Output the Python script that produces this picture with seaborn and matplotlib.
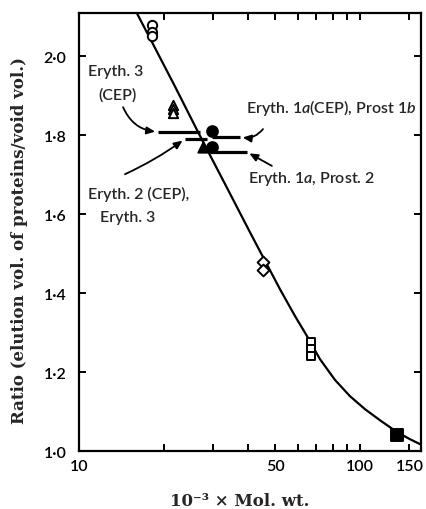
import matplotlib
matplotlib.use("Agg")
import matplotlib.pyplot as plt
import matplotlib.ticker as mticker
import numpy as np
import pandas as pd
import seaborn as sns

# Calibration curve: elution ratio against molecular weight (x 10^-3)
curve_mw = [15.9, 18.2, 22.0, 27.0, 33.1, 40.6, 45.2, 51.9, 58.7, 64.8, 72.0,
            81.5, 92.1, 104.2, 117.8, 135.4, 150.6, 166.3]
curve_ratio = [2.115, 2.035, 1.922, 1.797, 1.676, 1.554, 1.491, 1.410, 1.342,
               1.291, 1.233, 1.180, 1.139, 1.106, 1.078, 1.048, 1.030, 1.015]

# Marker proteins
open_circle_mw = [18.2, 18.2, 18.2]
open_circle_ratio = [2.078, 2.060, 2.052]
open_triangle_mw = [21.6, 21.6, 21.6]
open_triangle_ratio = [1.876, 1.866, 1.856]
filled_circle_mw = [29.7, 29.7]
filled_circle_ratio = [1.810, 1.770]
filled_triangle_mw = [27.6]
filled_triangle_ratio = [1.770]
open_diamond_mw = [45.2, 45.2]
open_diamond_ratio = [1.478, 1.458]
open_square_mw = [66.9, 66.9, 66.9]
open_square_ratio = [1.276, 1.258, 1.241]
filled_square_mw = [135.4]
filled_square_ratio = [1.040]

# Enzyme elution ratios drawn as horizontal bars
bar_ratio = [1.808, 1.790, 1.795, 1.757]
bar_mw_lo = [19.1, 23.8, 29.7, 29.3]
bar_mw_hi = [26.96, 28.6, 37.4, 39.6]

y_ticks = [1.0, 1.2, 1.4, 1.6, 1.8, 2.0]
y_tick_labels = ["1·0", "1·2", "1·4", "1·6", "1·8", "2·0"]
x_ticks = [10, 50, 100, 150]
x_tick_labels = ["10", "50", "100", "150"]
x_minor_ticks = [20, 30, 40, 60, 70, 80, 90]

sns.set_style("ticks")
plt.rcParams["font.family"] = ["Lato", "DejaVu Sans"]
plt.rcParams["font.weight"] = "semibold"
plt.rcParams["mathtext.fontset"] = "custom"
plt.rcParams["mathtext.rm"] = "Lato:semibold"
plt.rcParams["mathtext.it"] = "Lato:italic:semibold"

fig = plt.figure(figsize=(4.26, 5.10), dpi=100)
ax = fig.add_axes([0.1854, 0.1137, 0.8028, 0.8588])

curve = pd.DataFrame({"mw": curve_mw, "ratio": curve_ratio})
sns.lineplot(data=curve, x="mw", y="ratio", sort=False, color="black",
             linewidth=1.6, ax=ax, zorder=2)

ax.hlines(bar_ratio, bar_mw_lo, bar_mw_hi, colors="black", linewidth=2.3, zorder=2)

def points(xs, ys, marker, size, filled):
    df = pd.DataFrame({"mw": xs, "ratio": ys})
    sns.scatterplot(data=df, x="mw", y="ratio", marker=marker, s=size,
                    facecolor="black" if filled else "white",
                    edgecolor="black", linewidth=1.4, ax=ax, zorder=3)

points(open_circle_mw, open_circle_ratio, "o", 45, False)
points(open_triangle_mw, open_triangle_ratio, "^", 45, False)
points(filled_circle_mw, filled_circle_ratio, "o", 60, True)
points(filled_triangle_mw, filled_triangle_ratio, "^", 55, True)
points(open_diamond_mw, open_diamond_ratio, "D", 36, False)
points(open_square_mw, open_square_ratio, "s", 38, False)
points(filled_square_mw, filled_square_ratio, "s", 70, True)

ax.set_xscale("log")
ax.set_xlim(10, 164.9)
ax.set_ylim(1.0, 2.109)
ax.set_xticks(x_ticks)
ax.set_xticklabels(x_tick_labels)
ax.xaxis.set_minor_locator(mticker.FixedLocator(x_minor_ticks))
ax.xaxis.set_minor_formatter(mticker.NullFormatter())
ax.set_yticks(y_ticks)
ax.set_yticklabels(y_tick_labels)

for s in ax.spines.values():
    s.set_linewidth(1.6)
    s.set_color("black")
ax.tick_params(which="both", direction="in", length=5, width=1.4,
               top=True, right=True, colors="black", labelsize=11.5)
ax.tick_params(axis="y", pad=9)
ax.tick_params(axis="x", pad=6)

ax.set_ylabel("Ratio (elution vol. of proteins/void vol.)", family="DejaVu Serif",
              fontsize=12, fontweight="bold", va="center")
ax.yaxis.set_label_coords(-0.1725, 0.484)
ax.set_xlabel("10⁻³ × Mol. wt.", family="DejaVu Serif", fontsize=12,
              fontweight="bold", va="center")
ax.xaxis.set_label_coords(0.471, -0.114)

# Labels for the enzyme bars
fs = 11.5
ax.text(0.026, 0.858, "Eryth. 3", transform=ax.transAxes, fontsize=fs)
ax.text(0.056, 0.804, "(CEP)", transform=ax.transAxes, fontsize=fs)
ax.text(0.026, 0.578, "Eryth. 2 (CEP),", transform=ax.transAxes, fontsize=fs)
ax.text(0.061, 0.525, "Eryth. 3", transform=ax.transAxes, fontsize=fs)
ax.text(0.488, 0.774, r"Eryth. 1$\it{a}$(CEP), Prost 1$\it{b}$", transform=ax.transAxes, fontsize=fs)
ax.text(0.494, 0.614, r"Eryth. 1$\it{a}$, Prost. 2", transform=ax.transAxes, fontsize=fs)

arrow = dict(arrowstyle="-|>,head_length=0.5,head_width=0.22", color="black",
             linewidth=1.3, shrinkA=0, shrinkB=2)
ax.annotate("", xy=(bar_mw_lo[0], bar_ratio[0]), xycoords="data",
            xytext=(0.129, 0.785), textcoords="axes fraction",
            arrowprops=dict(arrow, connectionstyle="arc3,rad=0.3"))
ax.annotate("", xy=(bar_mw_lo[1], bar_ratio[1]), xycoords="data",
            xytext=(0.1345, 0.632), textcoords="axes fraction",
            arrowprops=dict(arrow, connectionstyle="arc3,rad=0.05"))
ax.annotate("", xy=(bar_mw_hi[2], bar_ratio[2]), xycoords="data",
            xytext=(0.538, 0.735), textcoords="axes fraction",
            arrowprops=dict(arrow, connectionstyle="arc3,rad=-0.3"))
ax.annotate("", xy=(bar_mw_hi[3], bar_ratio[3]), xycoords="data",
            xytext=(0.564, 0.651), textcoords="axes fraction",
            arrowprops=dict(arrow, connectionstyle="arc3,rad=0"))

fig.savefig("out.png", dpi=100)
